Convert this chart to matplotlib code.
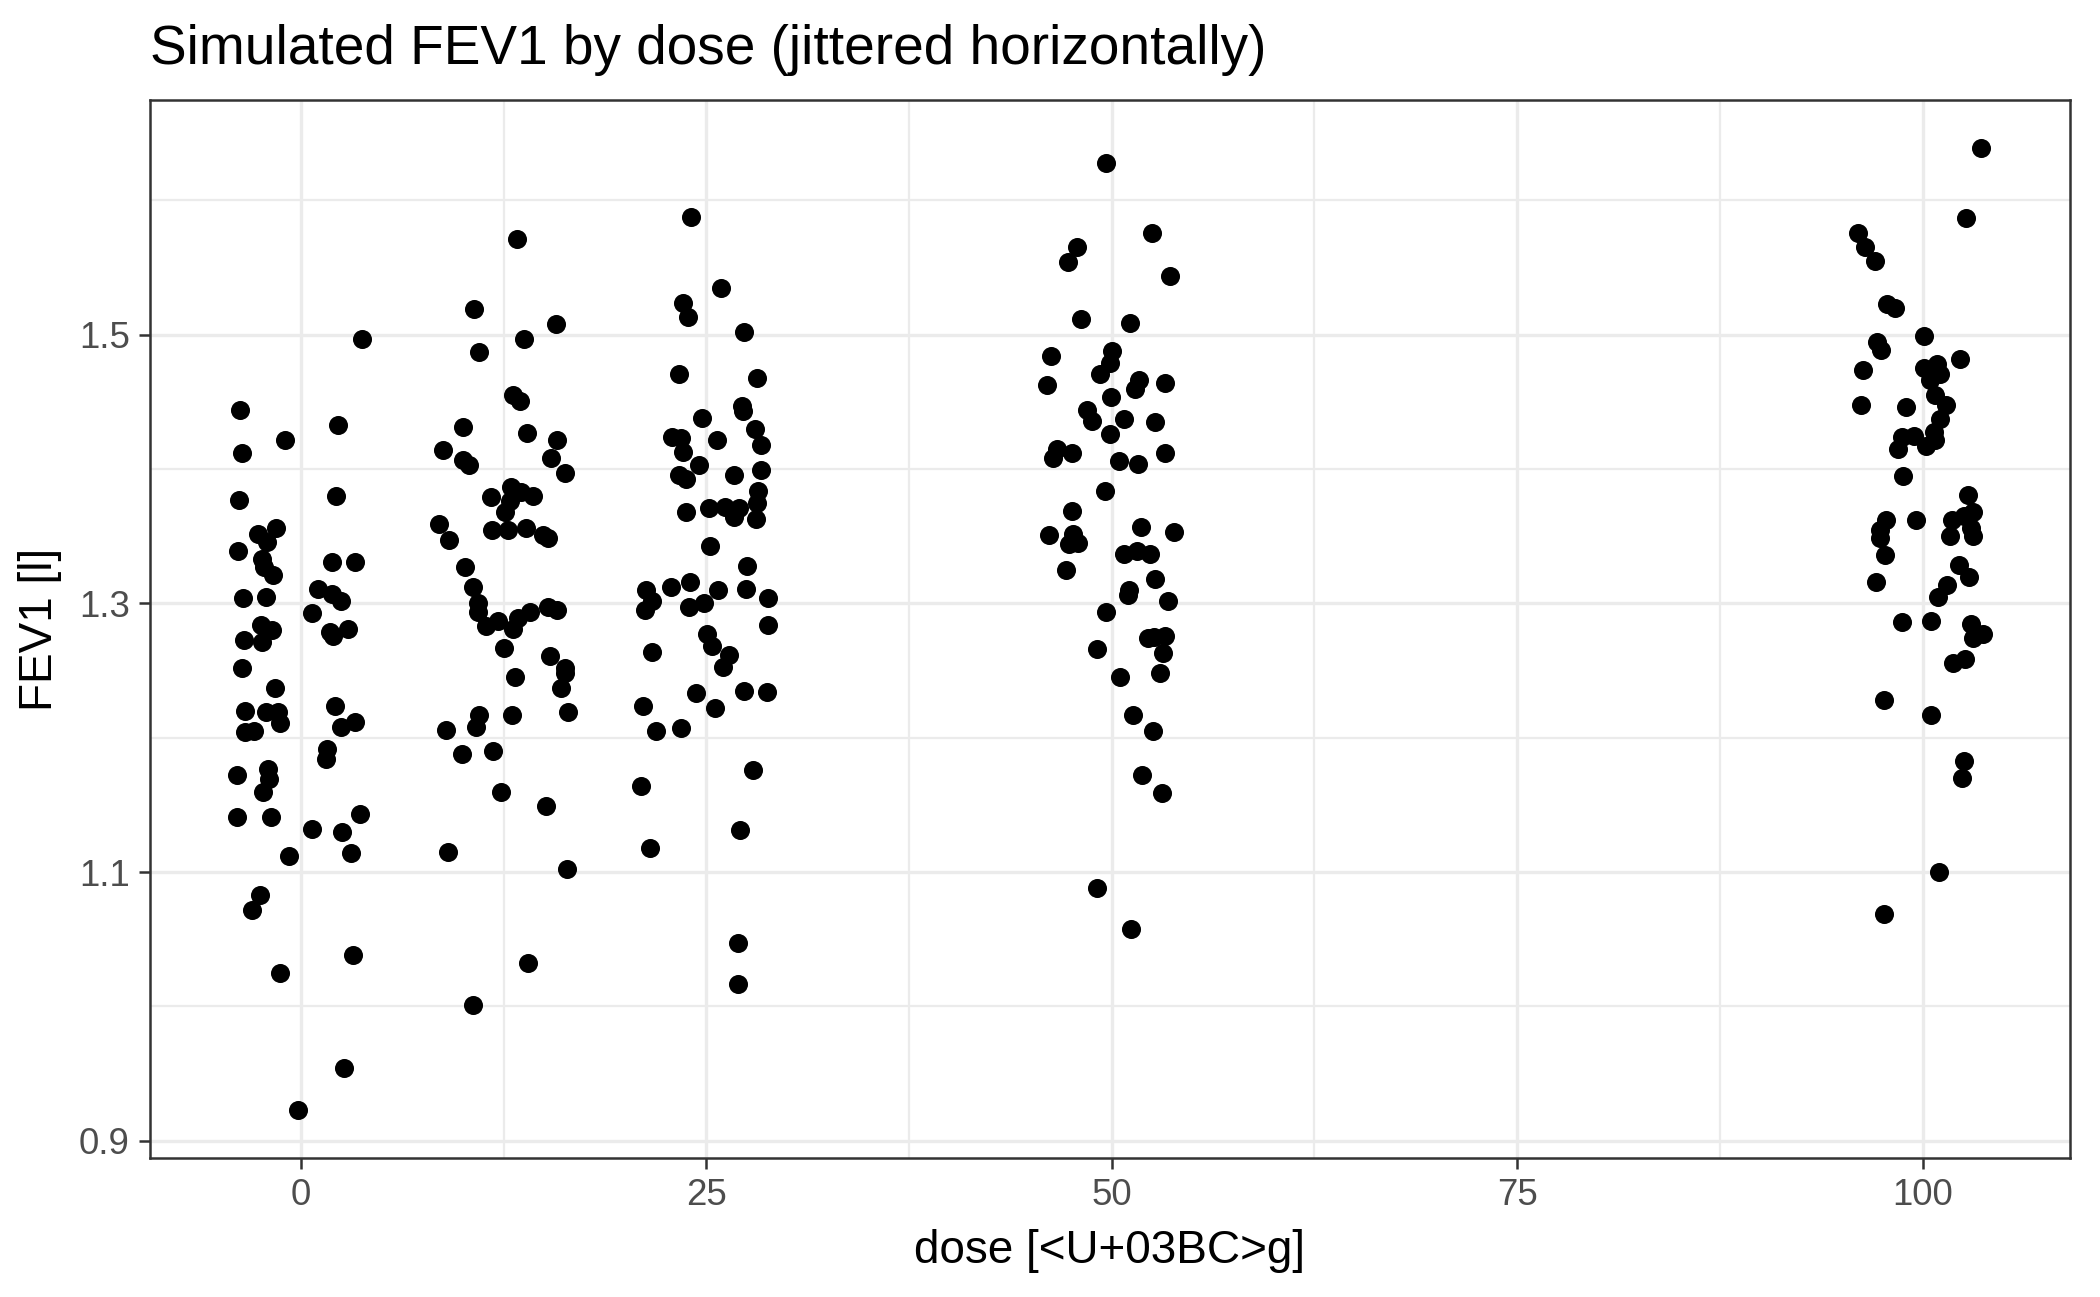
import numpy as np
import matplotlib
matplotlib.use("Agg")
import matplotlib.pyplot as plt
from matplotlib.ticker import FixedLocator

plt.rcParams['font.family'] = ['Liberation Sans', 'DejaVu Sans']

# jittered dose (x) and FEV1 (y) per dose group
dose_0_x = [3.77, -3.77, 2.28, -0.96, -3.61, -3.81, 2.16, -1.53, -2.65, -2.10, -3.90, -2.41, -2.24, -1.73,
            1.90, 3.32, -3.57, -2.14, 1.08, 1.94, 2.51, 0.71, -2.45, -1.77, -3.53, -2.41, 1.79, 1.98, 2.89,
            -3.61, -1.61, 2.08, -3.47, -2.14, -1.43, -1.28, -3.41, -2.86, 3.37, 2.45, 1.59, 1.53, -3.92,
            -2.00, -1.98, -2.35, -3.92, -1.84, 3.67, 0.71, 2.57, 3.08, -0.71, -2.53, -3.02, 3.20, -1.26,
            2.67, -0.18]
dose_0_y = [1.497, 1.444, 1.433, 1.422, 1.412, 1.377, 1.380, 1.356, 1.352, 1.346, 1.339, 1.333, 1.327, 1.321,
            1.331, 1.331, 1.304, 1.305, 1.311, 1.307, 1.302, 1.293, 1.284, 1.280, 1.273, 1.271, 1.279, 1.276, 1.281,
            1.252, 1.237, 1.224, 1.220, 1.219, 1.219, 1.211, 1.204, 1.205, 1.212, 1.208, 1.192, 1.184, 1.172,
            1.177, 1.169, 1.160, 1.141, 1.141, 1.143, 1.132, 1.130, 1.114, 1.112, 1.083, 1.072, 1.038, 1.025,
            0.954, 0.923]

dose_12_x = [13.36, 10.67, 15.71, 13.76, 10.98, 13.09, 13.50, 10.02, 13.97, 15.81, 8.79, 10.02, 10.39, 15.44,
             16.30, 12.94, 13.60, 11.72, 14.31, 12.88, 12.62, 8.55, 9.16, 11.76, 12.78, 13.91, 14.93, 15.23,
             10.12, 10.63, 10.94, 10.94, 14.11, 15.23, 15.81, 13.39, 12.13, 11.45, 13.09, 12.50, 15.34, 16.30,
             16.30, 16.05, 13.21, 11.00, 10.78, 8.96, 13.05, 16.46, 9.92, 11.88, 12.33, 15.09, 9.10, 16.44,
             14.01, 10.59]
dose_12_y = [1.571, 1.519, 1.508, 1.497, 1.487, 1.455, 1.451, 1.431, 1.427, 1.422, 1.414, 1.407, 1.403, 1.408,
             1.397, 1.387, 1.383, 1.379, 1.380, 1.376, 1.368, 1.359, 1.347, 1.355, 1.355, 1.356, 1.351, 1.349,
             1.327, 1.312, 1.300, 1.294, 1.294, 1.297, 1.295, 1.289, 1.287, 1.283, 1.281, 1.267, 1.261, 1.252,
             1.248, 1.237, 1.245, 1.217, 1.208, 1.206, 1.217, 1.219, 1.188, 1.190, 1.160, 1.149, 1.115, 1.102,
             1.032, 1.001]

dose_25_x = [24.09, 25.91, 23.58, 23.87, 27.36, 23.31, 28.12, 27.20, 27.24, 24.71, 22.90, 23.42, 28.02, 25.67,
             28.38, 23.56, 24.54, 23.31, 23.78, 26.73, 28.38, 28.18, 28.12, 23.76, 25.19, 26.13, 27.03, 26.69,
             28.08, 25.21, 27.53, 21.31, 22.80, 24.03, 25.71, 27.47, 28.79, 21.67, 21.23, 23.93, 24.85, 28.83,
             25.05, 25.36, 21.68, 26.38, 26.03, 24.38, 27.34, 28.77, 21.10, 25.52, 21.88, 23.42, 27.87, 21.00,
             27.07, 21.52, 26.99, 26.99]
dose_25_y = [1.588, 1.535, 1.524, 1.513, 1.502, 1.471, 1.468, 1.447, 1.443, 1.438, 1.424, 1.423, 1.430, 1.422,
             1.418, 1.413, 1.403, 1.396, 1.393, 1.396, 1.399, 1.384, 1.375, 1.368, 1.371, 1.372, 1.371, 1.364,
             1.363, 1.343, 1.328, 1.310, 1.312, 1.316, 1.310, 1.311, 1.304, 1.302, 1.295, 1.297, 1.300, 1.284,
             1.277, 1.268, 1.264, 1.262, 1.253, 1.233, 1.235, 1.234, 1.224, 1.222, 1.205, 1.207, 1.176, 1.164,
             1.131, 1.118, 1.047, 1.017]

dose_50_x = [49.66, 52.49, 47.84, 47.31, 53.61, 48.09, 51.16, 50.03, 46.27, 49.87, 49.31, 51.71, 51.42, 53.27,
             46.04, 49.99, 48.45, 48.76, 50.75, 52.69, 49.87, 46.65, 46.41, 47.57, 50.44, 51.63, 53.30, 49.58,
             47.53, 46.14, 47.64, 47.37, 47.94, 51.83, 53.82, 50.75, 51.57, 52.34, 47.17, 52.69, 51.05, 51.01,
             53.45, 49.68, 52.24, 53.30, 52.59, 53.14, 49.11, 53.00, 50.54, 51.32, 52.53, 51.87, 53.10, 49.11,
             51.22]
dose_50_y = [1.628, 1.576, 1.565, 1.554, 1.544, 1.512, 1.509, 1.488, 1.484, 1.479, 1.471, 1.466, 1.460, 1.464,
             1.463, 1.454, 1.444, 1.436, 1.437, 1.435, 1.426, 1.415, 1.408, 1.412, 1.406, 1.404, 1.412, 1.384,
             1.369, 1.351, 1.352, 1.344, 1.345, 1.357, 1.353, 1.337, 1.339, 1.337, 1.325, 1.318, 1.310, 1.306,
             1.302, 1.294, 1.274, 1.276, 1.275, 1.263, 1.266, 1.248, 1.245, 1.217, 1.205, 1.172, 1.159, 1.088,
             1.058]

dose_100_x = [103.61, 102.68, 96.03, 96.44, 97.05, 97.81, 98.28, 100.12, 97.19, 97.44, 102.31, 100.88, 100.10,
              101.09, 96.32, 100.47, 100.78, 101.45, 96.22, 99.00, 101.09, 100.68, 100.78, 98.73, 99.45, 98.47,
              100.23, 98.77, 102.78, 103.13, 102.58, 101.80, 97.75, 99.59, 97.40, 102.97, 101.70, 97.40, 103.09,
              97.71, 102.27, 102.87, 97.16, 101.49, 100.94, 98.73, 100.53, 102.97, 103.71, 103.13, 102.62, 101.90,
              97.65, 100.51, 102.58, 102.42, 101.03, 97.61]
dose_100_y = [1.639, 1.587, 1.576, 1.565, 1.555, 1.523, 1.520, 1.499, 1.495, 1.489, 1.482, 1.478, 1.475,
              1.471, 1.474, 1.466, 1.455, 1.448, 1.448, 1.446, 1.437, 1.428, 1.422, 1.424, 1.425, 1.415,
              1.417, 1.395, 1.381, 1.368, 1.365, 1.362, 1.362, 1.362, 1.355, 1.356, 1.350, 1.349, 1.350,
              1.336, 1.329, 1.320, 1.316, 1.314, 1.305, 1.286, 1.287, 1.285, 1.277, 1.274, 1.259, 1.256,
              1.228, 1.217, 1.183, 1.170, 1.100, 1.069]

x_breaks = [0, 25, 50, 75, 100]
y_breaks = [0.9, 1.1, 1.3, 1.5]

dose_x = np.concatenate([dose_0_x, dose_12_x, dose_25_x, dose_50_x, dose_100_x])
fev1 = np.concatenate([dose_0_y, dose_12_y, dose_25_y, dose_50_y, dose_100_y])

fig = plt.figure(figsize=(10.5, 6.485), dpi=200)
ax = fig.add_axes([0.0714, 0.1072, 0.9143, 0.8157])

ax.scatter(dose_x, fev1, s=47, c="black", linewidths=0, zorder=3)

# ggplot-like 5% expansion
xr = dose_x.max() - dose_x.min()
yr = fev1.max() - fev1.min()
ax.set_xlim(dose_x.min() - 0.05 * xr, dose_x.max() + 0.05 * xr)
ax.set_ylim(fev1.min() - 0.05 * yr, fev1.max() + 0.05 * yr)

ax.xaxis.set_major_locator(FixedLocator(x_breaks))
ax.yaxis.set_major_locator(FixedLocator(y_breaks))
ax.xaxis.set_minor_locator(FixedLocator([12.5, 37.5, 62.5, 87.5]))
ax.yaxis.set_minor_locator(FixedLocator([1.0, 1.2, 1.4, 1.6]))
ax.set_xticklabels([str(b) for b in x_breaks])
ax.set_yticklabels([str(b) for b in y_breaks])

ax.grid(which="major", color="#EBEBEB", linewidth=1.2, zorder=0)
ax.grid(which="minor", color="#EBEBEB", linewidth=0.8, zorder=0)
ax.set_axisbelow(True)
for sp in ax.spines.values():
    sp.set_color("#333333")
    sp.set_linewidth(0.9)

ax.tick_params(which="major", length=4, width=0.9, color="#333333", labelcolor="#4D4D4D",
               labelsize=13.2, pad=3.3)
ax.tick_params(which="minor", length=0)

ax.set_xlabel("dose [<U+03BC>g]", fontsize=16.5, labelpad=5.5)
ax.set_ylabel("FEV1 [l]", fontsize=16.5, labelpad=6)
ax.set_title("Simulated FEV1 by dose (jittered horizontally)", loc="left", fontsize=19.8, pad=13)

fig.savefig("out.png", dpi=200)
plt.close(fig)
